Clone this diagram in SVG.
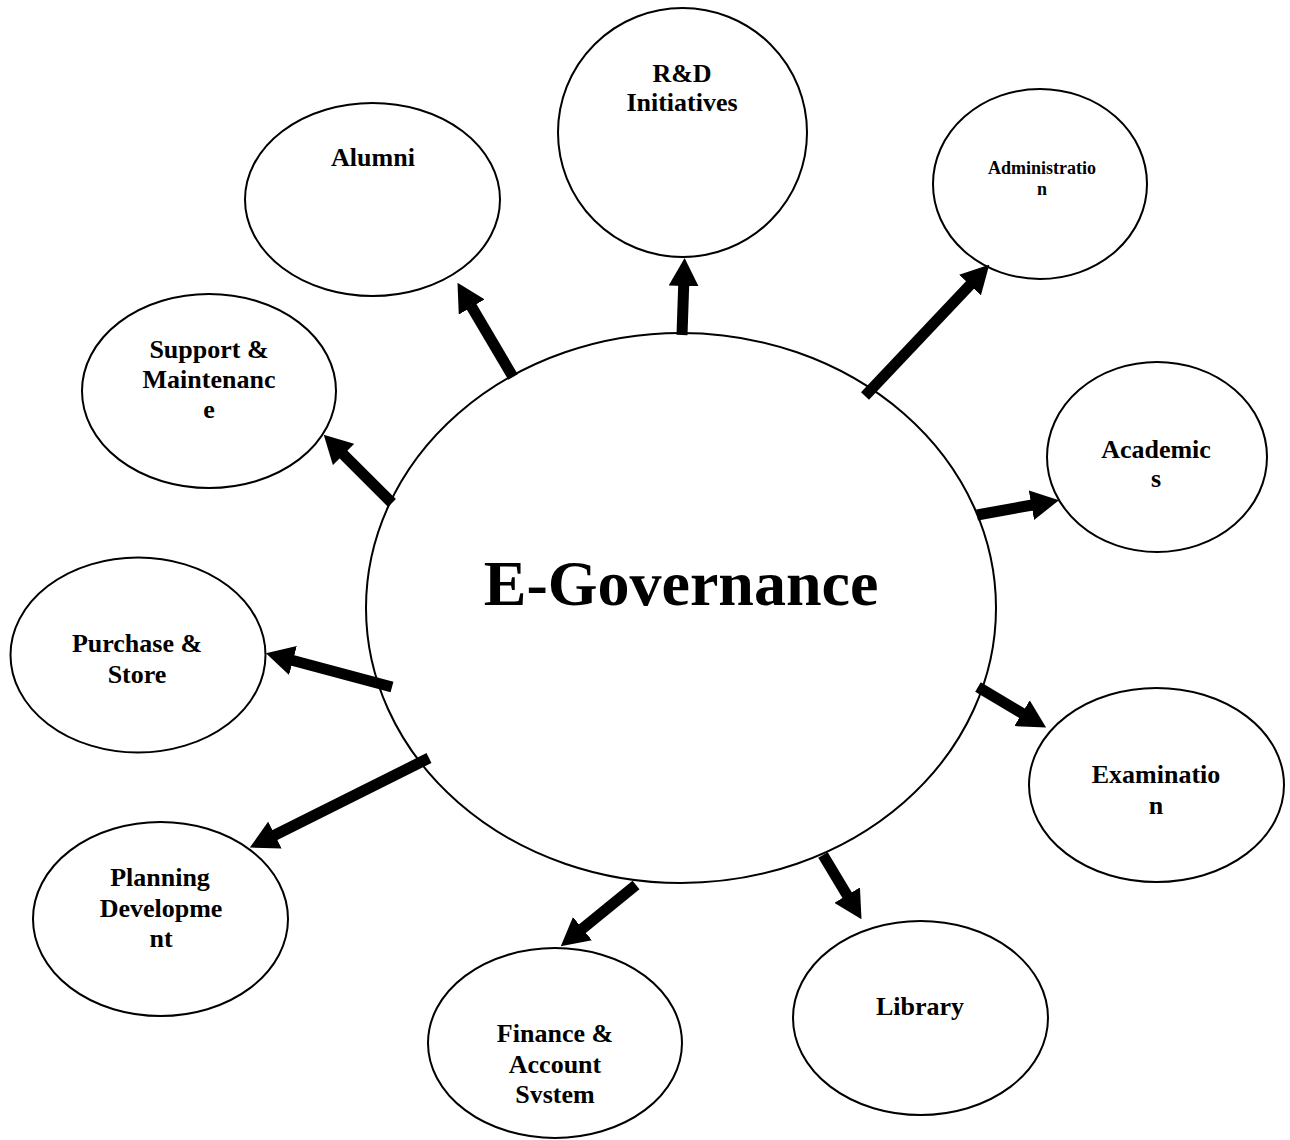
<svg xmlns="http://www.w3.org/2000/svg" width="1290" height="1140" viewBox="0 0 1290 1140">
  <defs>
    <style>
      .node { fill: #ffffff; stroke: #000000; stroke-width: 2; }
      .lbl { font-family: "Liberation Serif", "Times New Roman", serif; font-weight: bold; font-size: 26px; fill: #000000; text-anchor: middle; }
      .small { font-size: 18px; }
      .hub { font-size: 64px; }
      .arrow { stroke: #000000; stroke-width: 11; fill: none; marker-end: url(#head); }
    </style>
    <marker id="head" markerUnits="userSpaceOnUse" viewBox="0 0 28 30" markerWidth="28" markerHeight="30" refX="1" refY="15" orient="auto">
      <path d="M0,0 L28,15 L0,30 Z" fill="#000000"/>
    </marker>
    <clipPath id="financeClip">
      <rect x="420" y="950" width="270" height="153"/>
    </clipPath>
  </defs>
  <rect width="1290" height="1140" fill="#ffffff"/>

  <!-- hub -->
  <g id="hub">
    <ellipse class="node" cx="681" cy="608" rx="315" ry="275"/>
    <text class="lbl hub" x="681" y="605">E-Governance</text>
  </g>

  <!-- satellite modules -->
  <g id="rnd">
    <ellipse class="node" cx="682.5" cy="132.5" rx="124.5" ry="124.5"/>
    <text class="lbl" x="682" y="82">R&amp;D</text>
    <text class="lbl" x="682" y="111">Initiatives</text>
  </g>
  <g id="alumni">
    <ellipse class="node" cx="372.5" cy="199.5" rx="127.5" ry="96.5"/>
    <text class="lbl" x="373" y="166">Alumni</text>
  </g>
  <g id="administration">
    <ellipse class="node" cx="1040" cy="184" rx="107" ry="95"/>
    <text class="lbl small" x="1042" y="174">Administratio</text>
    <text class="lbl small" x="1042" y="195">n</text>
  </g>
  <g id="support">
    <ellipse class="node" cx="209" cy="391" rx="127" ry="97"/>
    <text class="lbl" x="209" y="358">Support &amp;</text>
    <text class="lbl" x="209" y="388">Maintenanc</text>
    <text class="lbl" x="209" y="418">e</text>
  </g>
  <g id="academics">
    <ellipse class="node" cx="1157" cy="457" rx="110" ry="95"/>
    <text class="lbl" x="1156" y="458">Academic</text>
    <text class="lbl" x="1156" y="487">s</text>
  </g>
  <g id="purchase">
    <ellipse class="node" cx="138" cy="655" rx="127.5" ry="97.5"/>
    <text class="lbl" x="137" y="652">Purchase &amp;</text>
    <text class="lbl" x="137" y="683">Store</text>
  </g>
  <g id="examination">
    <ellipse class="node" cx="1156.5" cy="785" rx="127.5" ry="97"/>
    <text class="lbl" x="1156" y="783">Examinatio</text>
    <text class="lbl" x="1156" y="814">n</text>
  </g>
  <g id="planning">
    <ellipse class="node" cx="160.5" cy="919" rx="127.5" ry="97"/>
    <text class="lbl" x="160" y="886">Planning</text>
    <text class="lbl" x="161" y="917">Developme</text>
    <text class="lbl" x="161" y="947">nt</text>
  </g>
  <g id="library">
    <ellipse class="node" cx="920.5" cy="1018" rx="127.5" ry="97"/>
    <text class="lbl" x="920" y="1015">Library</text>
  </g>
  <g id="finance">
    <ellipse class="node" cx="555" cy="1043" rx="127" ry="95"/>
    <g clip-path="url(#financeClip)">
      <text class="lbl" x="555" y="1042">Finance &amp;</text>
      <text class="lbl" x="555" y="1073">Account</text>
      <text class="lbl" x="555" y="1103">System</text>
    </g>
  </g>

  <!-- connectors: hub to each module -->
  <g id="connectors">
    <line class="arrow" x1="682" y1="335" x2="683.7" y2="285"/>
    <line class="arrow" x1="513" y1="377" x2="471.2" y2="306.1"/>
    <line class="arrow" x1="865" y1="396" x2="970.7" y2="284.3"/>
    <line class="arrow" x1="392" y1="503" x2="342.8" y2="453.8"/>
    <line class="arrow" x1="977" y1="515" x2="1032.4" y2="505"/>
    <line class="arrow" x1="392" y1="687" x2="292" y2="660.2"/>
    <line class="arrow" x1="978" y1="687" x2="1022.9" y2="713.7"/>
    <line class="arrow" x1="429" y1="758" x2="274" y2="835.5"/>
    <line class="arrow" x1="636" y1="885" x2="581.7" y2="929.3"/>
    <line class="arrow" x1="823" y1="855" x2="847.6" y2="896"/>
  </g>
</svg>
